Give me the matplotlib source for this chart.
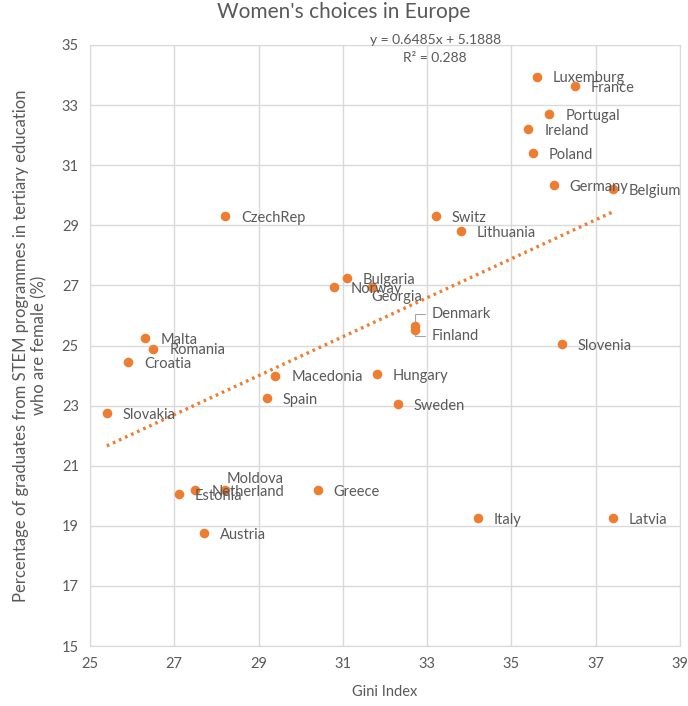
import numpy as np
import matplotlib
matplotlib.use('Agg')
import matplotlib.pyplot as plt

plt.rcParams['font.family'] = ['Lato', 'DejaVu Sans']

# Gini index vs share of female STEM graduates
countries = ['Luxemburg', 'France', 'Portugal', 'Ireland', 'Poland', 'Germany', 'Belgium',
             'CzechRep', 'Switz', 'Lithuania', 'Bulgaria', 'Norway', 'Georgia',
             'Denmark', 'Finland', 'Malta', 'Romania', 'Croatia', 'Slovenia',
             'Macedonia', 'Hungary', 'Spain', 'Sweden', 'Slovakia',
             'Moldova', 'Netherland', 'Estonia', 'Greece', 'Italy', 'Latvia', 'Austria']
gini = [35.6, 36.5, 35.9, 35.4, 35.5, 36.0, 37.4,
        28.2, 33.2, 33.8, 31.1, 30.8, 31.7,
        32.7, 32.7, 26.3, 26.5, 25.9, 36.2,
        29.4, 31.8, 29.2, 32.3, 25.4,
        28.2, 27.5, 27.1, 30.4, 34.2, 37.4, 27.7]
stem_female = [33.95, 33.65, 32.7, 32.2, 31.4, 30.35, 30.2,
               29.3, 29.3, 28.8, 27.25, 26.95, 26.95,
               25.65, 25.5, 25.25, 24.9, 24.45, 25.05,
               24.0, 24.05, 23.25, 23.05, 22.75,
               20.2, 20.2, 20.05, 20.2, 19.25, 19.25, 18.75]

# Excel linear trendline
slope = 0.6485
intercept = 5.1888
r_squared = 0.288

orange = '#ED7D31'
grey_text = '#595959'
grid_col = '#D9D9D9'

fig = plt.figure(figsize=(6.88, 7.06), dpi=100)
ax = fig.add_axes([90 / 688, 1 - 646 / 706, 590 / 688, 601 / 706])

ax.scatter(gini, stem_female, s=48, color=orange, zorder=3, linewidths=0)

xs = np.linspace(min(gini), max(gini), 50)
ax.plot(xs, slope * xs + intercept, color=orange, linestyle=(0, (0.8, 1.2)),
        linewidth=2.4, zorder=2)

# label offsets in points; default is to the right of the dot
offsets = {'Georgia': (-0.7, -7.5), 'Moldova': (1.4, 8.0),
           'Denmark': (12.2, 8.6), 'Finland': (12.2, -4.3)}
for name, x, y in zip(countries, gini, stem_female):
    dx, dy = offsets.get(name, (11.5, -1.4))
    if name in ('Denmark', 'Finland'):
        ax.annotate(name, (x, y), xytext=(dx, dy), textcoords='offset points',
                    fontsize=10.5, color=grey_text, ha='left', va='center', zorder=4,
                    arrowprops=dict(arrowstyle='-', color='#A6A6A6', lw=0.8,
                                    shrinkA=3, shrinkB=3, relpos=(0, 0.5),
                                    connectionstyle='angle,angleA=0,angleB=90,rad=0'))
    else:
        ax.annotate(name, (x, y), xytext=(dx, dy), textcoords='offset points',
                    fontsize=10.5, color=grey_text, ha='left', va='center', zorder=4)

ax.set_xlim(25, 39)
ax.set_ylim(15, 35)
ax.set_xticks(np.arange(25, 40, 2))
ax.set_yticks(np.arange(15, 36, 2))
ax.grid(True, color=grid_col, linewidth=1)
ax.set_axisbelow(True)
for sp in ax.spines.values():
    sp.set_color(grid_col)
ax.tick_params(length=0, labelsize=10.5, colors=grey_text, pad=8)

ax.set_xlabel('Gini Index', fontsize=10.5, color=grey_text, labelpad=10)
ax.set_ylabel('Percentage of graduates from STEM programmes in tertiary education\nwho are female (%)',
              fontsize=12, color=grey_text, labelpad=10)
fig.text(0.5, 0.983, "Women's choices in Europe", fontsize=15, color=grey_text,
         ha='center', va='center')

ax.text(0.585, 1.008, 'y = %.4fx + %.4f' % (slope, intercept), transform=ax.transAxes,
        fontsize=10, color=grey_text, ha='center', va='center')
ax.text(0.585, 0.978, 'R² = %.3f' % r_squared, transform=ax.transAxes,
        fontsize=10, color=grey_text, ha='center', va='center')

fig.savefig('out.png', dpi=100)
